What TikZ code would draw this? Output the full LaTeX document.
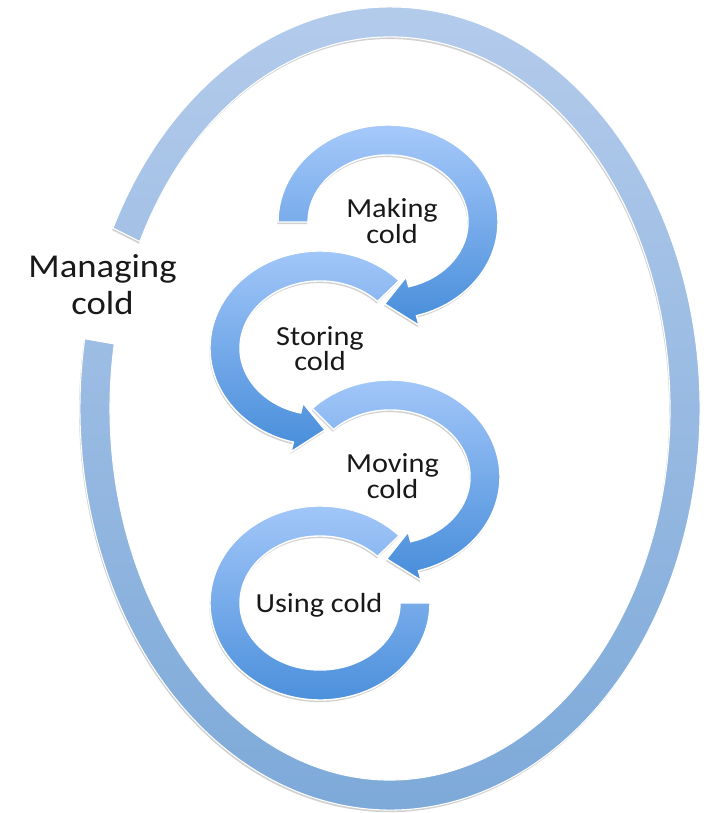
\documentclass[tikz,border=0pt]{standalone}
\usepackage{fontspec}
\setmainfont{Carlito}
\newfontfamily\labelfont[FakeStretch=1.1]{Carlito}
\usetikzlibrary{shadows}
\definecolor{arrowLight}{HTML}{A6C9FA}
\definecolor{arrowDark}{HTML}{478DDA}
\definecolor{ringTop}{HTML}{B5CCEC}
\definecolor{ringBottom}{HTML}{7BA8D8}
\tikzset{
  % Inner circular arrows
  coldarrow/.style={
    draw=white, line width=0.8pt,
    top color=arrowLight, bottom color=arrowDark,
    drop shadow={shadow xshift=-0.4pt, shadow yshift=-1.2pt,
                 opacity=0.3, fill=black!60}
  },
  % Outer open ring
  outerring/.style={
    draw=white, line width=0.6pt,
    top color=ringTop, bottom color=ringBottom,
    drop shadow={shadow xshift=-0.5pt, shadow yshift=-1.2pt,
                 opacity=0.3, fill=black!60}
  },
  steplabel/.style={
    align=center, inner sep=0pt, text=black!90,
    font=\labelfont\fontsize{15.7}{14.5}\selectfont
  },
  ringlabel/.style={
    align=center, inner sep=0pt, text=black!90,
    font=\labelfont\fontsize{19}{21}\selectfont
  },
}
\newcommand{\coldarrow}[5]{%
  \begin{scope}[shift={(#2)}]
    \path[coldarrow] (#3:110 and 97)
      arc[start angle=#3, end angle=#4, x radius=110, y radius=97]
      -- (#4:120 and 107) -- (#5:95 and 82)            % head
      -- (#4:70 and 57) -- (#4:80 and 67)
      arc[start angle=#4, end angle=#3, x radius=80, y radius=67] -- cycle;
    \coordinate (#1) at (0,0);
  \end{scope}
}

\begin{document}
\begin{tikzpicture}[x=0.02cm, y=0.02cm]

  \useasboundingbox (0,0) rectangle (703,813);

  %% ── Outer ring ──
  \begin{scope}[shift={(390,404.5)}]
    \path[outerring] (170:310 and 401.5)
      arc[start angle=170, end angle=513.3, x radius=310, y radius=401.5]
      -- (153.3:280 and 371.5)
      arc[start angle=513.3, end angle=170, x radius=280, y radius=371.5] -- cycle;
    \coordinate (ringC) at (0,0);
  \end{scope}

  %% ── Last arrow (no head) ──
  \begin{scope}[shift={(320,210)}]
    \path[coldarrow] (44:110 and 97)
      arc[start angle=44, end angle=360, x radius=110, y radius=97]
      -- (0:80 and 67)
      arc[start angle=360, end angle=44, x radius=80, y radius=67] -- cycle;
    \coordinate (useC) at (0,0);
  \end{scope}

  %% ── Arrows with heads ──
  \coldarrow{moveC}{390,336}{135}{-75}{-92}
  \coldarrow{storeC}{320,465}{44}{256}{273}
  \coldarrow{makeC}{388,591}{180}{-75}{-92}

  %% ── Labels ──
  \node[steplabel] (making)  at (392,592) {Making\\cold};
  \node[steplabel] (storing) at (320,464.5) {Storing\\cold};
  \node[steplabel] (moving)  at (392.5,337) {Moving\\cold};
  \node[steplabel] (using)   at (319,207.5) {Using cold};
  \node[ringlabel] (managing) at (102.5,528) {Managing\\cold};

\end{tikzpicture}
\end{document}
